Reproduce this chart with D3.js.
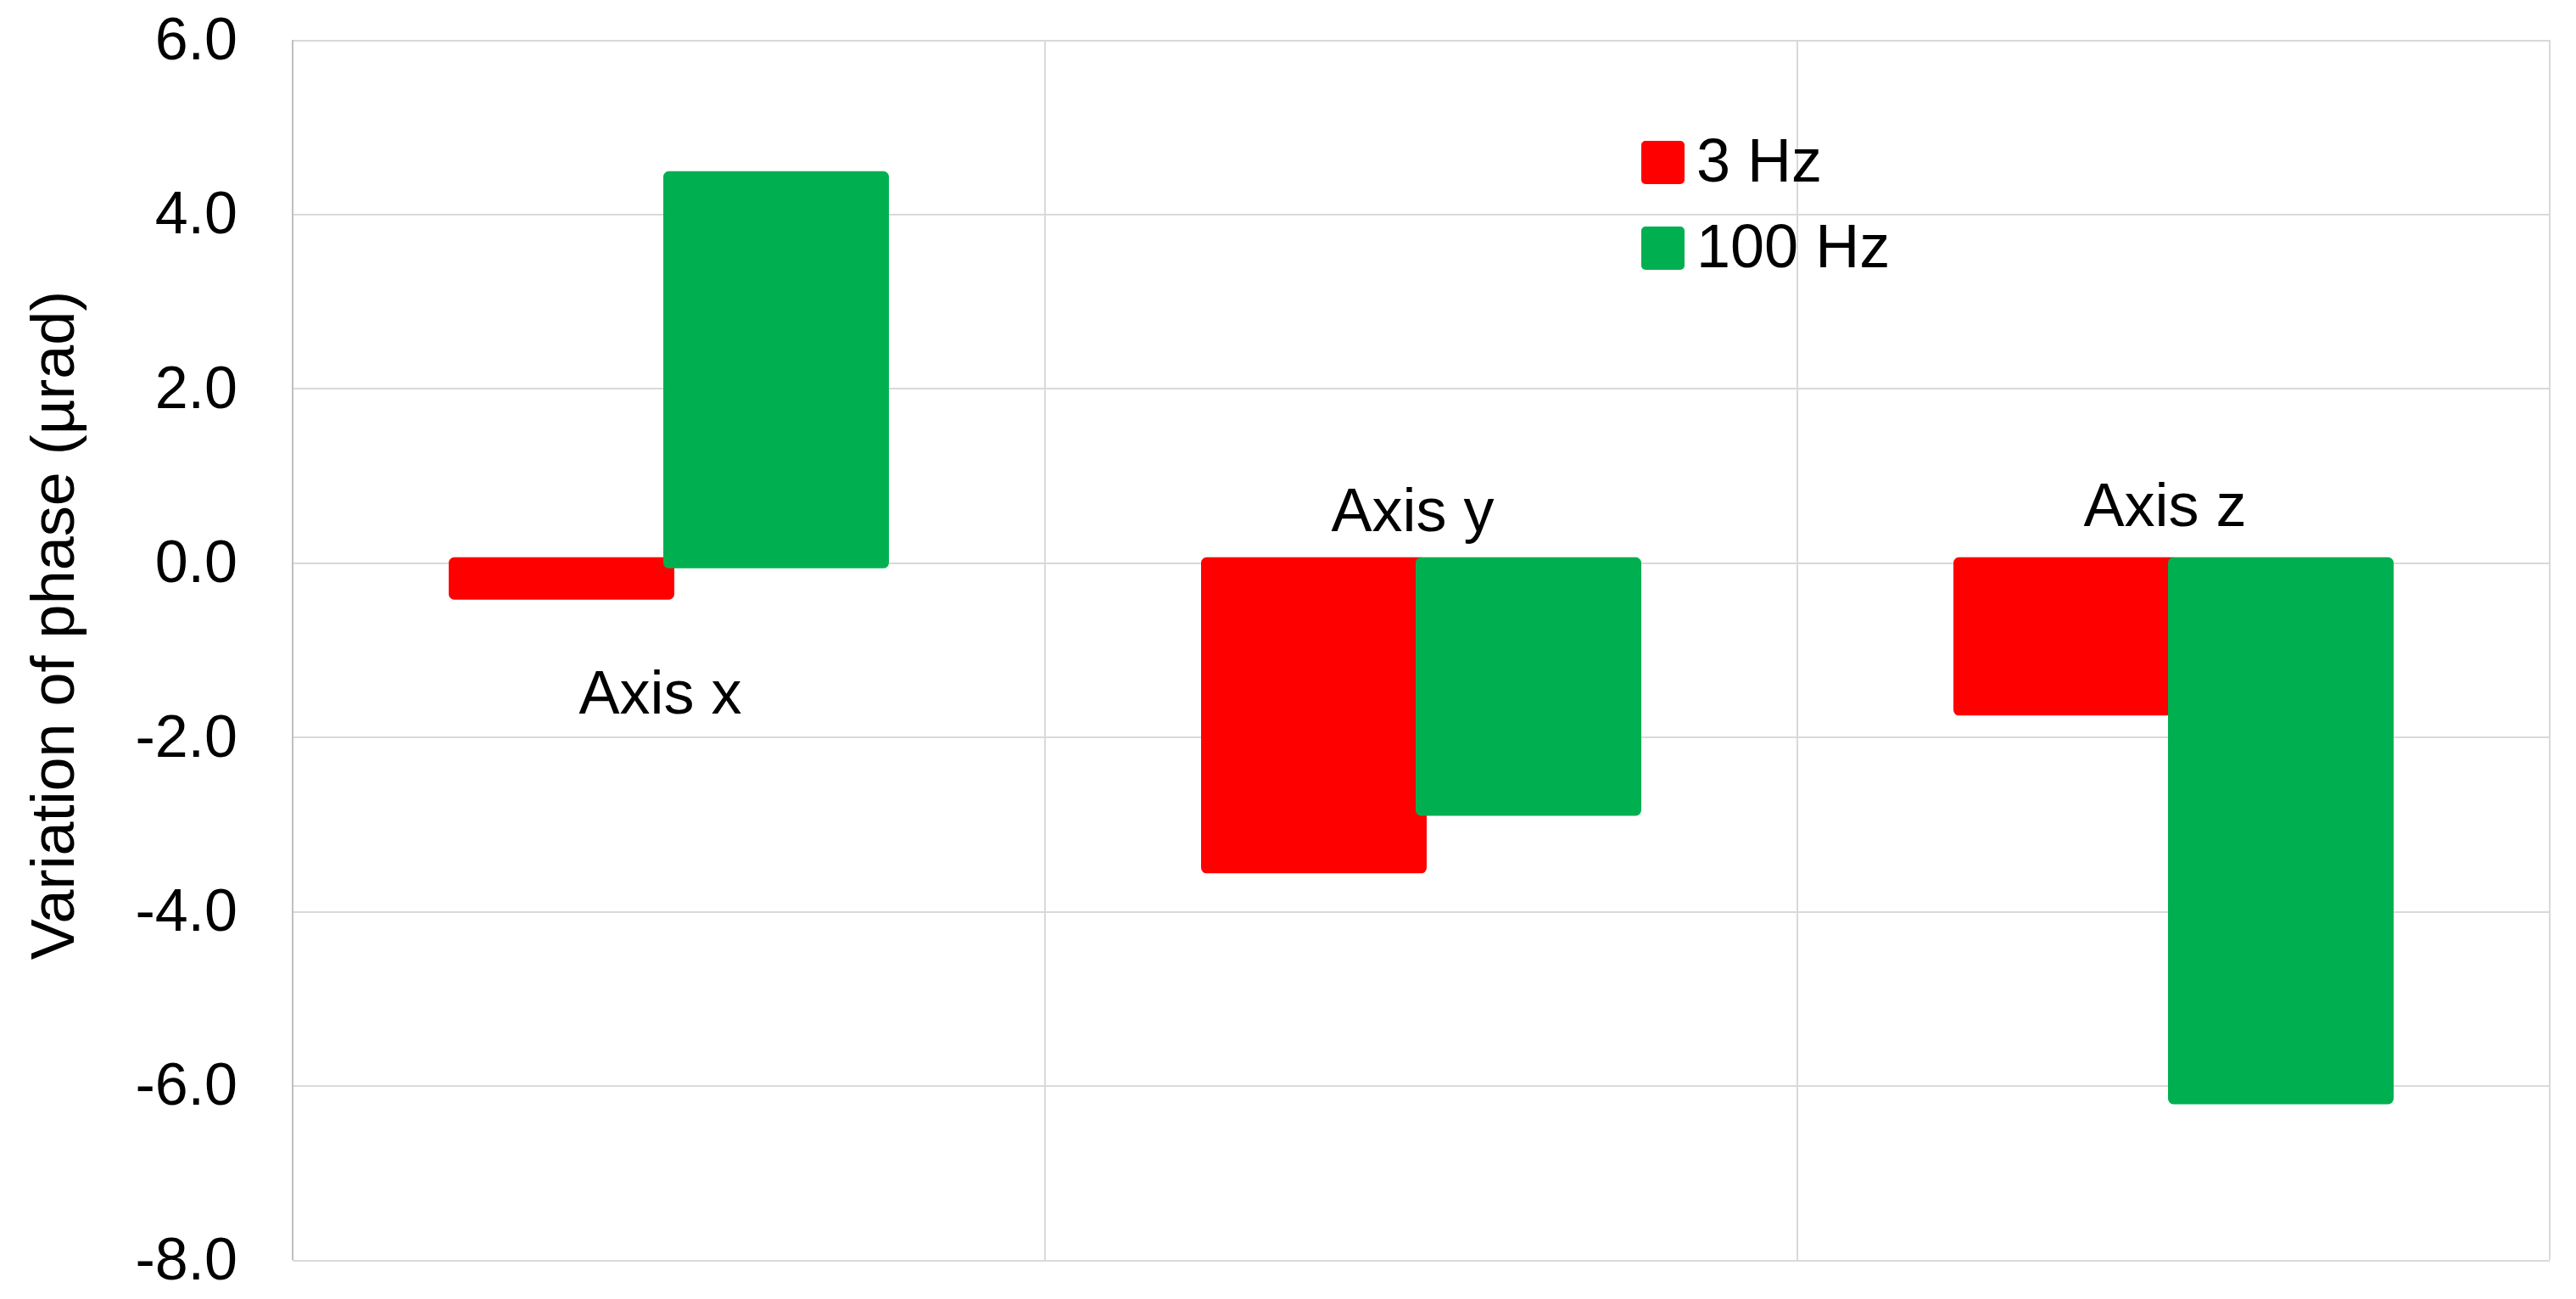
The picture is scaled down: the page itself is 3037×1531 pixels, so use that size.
<!DOCTYPE html>
<html lang="en">
<head>
  <meta charset="UTF-8">
  <title>Variation of phase</title>
  <script src="https://d3js.org/d3.v7.min.js"></script>
  <style>
    body { margin: 0; background: #fff; }
    text { font-family: "Liberation Sans", Arial, sans-serif; fill: #000; }
    .grid line { stroke: #d9d9d9; stroke-width: 2px; shape-rendering: crispEdges; }
    .grid .domain { display: none; }
    .ylabels .domain { display: none; }
    .ylabels text { font-size: 70px; }
  </style>
</head>
<body>
  <div id="chart"></div>
  <script>
    // values
    const categories = ["Axis x", "Axis y", "Axis z"];
    const seriesNames = ["3 Hz", "100 Hz"];
    const hz3 = [-0.36, -3.50, -1.69];
    const hz100 = [4.43, -2.84, -6.15];
    const yTicks = [6, 4, 2, 0, -2, -4, -6, -8];
    // height (in µrad) where each category name sits
    const labelLevels = [-1.73, 0.36, 0.42];
    const colors = ["#ff0000", "#00b050"];

    const width = 3037, height = 1531;
    const margin = {top: 47, right: 31, bottom: 46, left: 345};
    const plotW = width - margin.left - margin.right;

    const svg = d3.select("#chart").append("svg")
      .attr("width", width)
      .attr("height", height)
      .style("background", "#fff");

    const x0 = d3.scaleBand()
      .domain(categories)
      .range([margin.left, width - margin.right])
      .padding(0);

    const x1 = d3.scaleBand()
      .domain(seriesNames)
      .range([0, x0.bandwidth()])
      .paddingInner(0)
      .paddingOuter(0.753);

    const y = d3.scaleLinear()
      .domain([-8, 6])
      .range([height - margin.bottom, margin.top]);

    const color = d3.scaleOrdinal().domain(seriesNames).range(colors);

    // horizontal gridlines
    svg.append("g")
      .attr("class", "grid")
      .attr("transform", `translate(${margin.left},0)`)
      .call(d3.axisLeft(y).tickValues(yTicks).tickSize(-plotW).tickFormat(""));

    // vertical category separators + right border
    svg.append("g")
      .selectAll("line")
      .data(categories.slice(1).map(c => x0(c)).concat([x0.range()[1]]))
      .join("line")
        .attr("x1", d => d).attr("x2", d => d)
        .attr("y1", y(6)).attr("y2", y(-8))
        .attr("stroke", "#d9d9d9")
        .attr("stroke-width", 2)
        .attr("shape-rendering", "crispEdges");

    // left axis line
    svg.append("line")
      .attr("x1", margin.left).attr("x2", margin.left)
      .attr("y1", y(6)).attr("y2", y(-8))
      .attr("stroke", "#bfbfbf")
      .attr("stroke-width", 2)
      .attr("shape-rendering", "crispEdges");

    // tick labels
    svg.append("g")
      .attr("class", "ylabels")
      .attr("transform", `translate(${margin.left},0)`)
      .call(d3.axisLeft(y).tickValues(yTicks).tickSize(0).tickPadding(65)
        .tickFormat(d => d.toFixed(1)));

    // bars
    const rows = [];
    seriesNames.forEach((s, si) => {
      const vals = si === 0 ? hz3 : hz100;
      categories.forEach((c, ci) => rows.push({cat: c, series: s, value: vals[ci]}));
    });

    svg.append("g")
      .selectAll("rect")
      .data(rows)
      .join("rect")
        .attr("x", d => x0(d.cat) + x1(d.series))
        .attr("width", x1.bandwidth())
        .attr("y", d => y(Math.max(0, d.value)))
        .attr("height", d => Math.abs(y(d.value) - y(0)))
        .attr("fill", d => color(d.series))
        .attr("stroke", d => color(d.series))
        .attr("stroke-width", 13)
        .attr("stroke-linejoin", "round");

    // category names
    svg.append("g")
      .selectAll("text")
      .data(categories)
      .join("text")
        .attr("x", d => x0(d) + x0.bandwidth() / 2 - 10)
        .attr("y", (d, i) => y(labelLevels[i]))
        .attr("text-anchor", "middle")
        .style("font-size", "72px")
        .text(d => d);

    // y title
    svg.append("text")
      .attr("transform", `translate(87,737) rotate(-90)`)
      .attr("text-anchor", "middle")
      .style("font-size", "72px")
      .text("Variation of phase (µrad)");

    // legend
    const legend = svg.append("g")
      .attr("transform", "translate(1935,166)")
      .selectAll("g")
      .data(seriesNames)
      .join("g")
        .attr("transform", (d, i) => `translate(0,${i * 101})`);

    legend.append("rect")
      .attr("width", 51)
      .attr("height", 51)
      .attr("rx", 5)
      .attr("fill", d => color(d));

    legend.append("text")
      .attr("x", 65)
      .attr("y", 48)
      .style("font-size", "72px")
      .text(d => d);
  </script>
</body>
</html>
